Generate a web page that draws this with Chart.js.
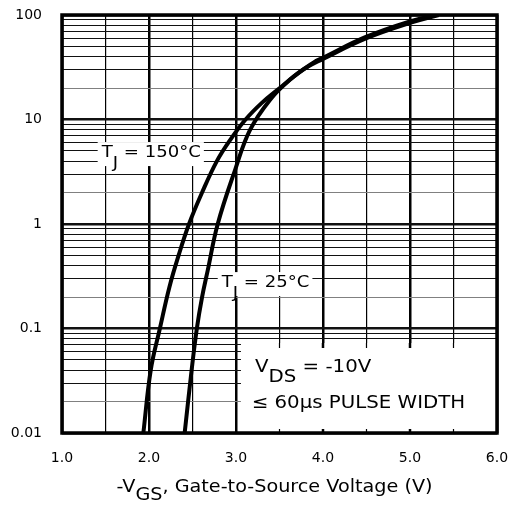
<!DOCTYPE html>
<html>
<head>
<meta charset="utf-8" />
<title>Typical Transfer Characteristics</title>
<script src="https://cdn.jsdelivr.net/npm/chart.js@4.4.1/dist/chart.umd.min.js"></script>
<style>
  html, body { margin: 0; padding: 0; background: #fff; overflow: hidden; }
  canvas { display: block; }
</style>
</head>
<body>
<canvas id="transfer_chart" width="510" height="515"></canvas>

<script>
// -VGS (V) and -ID (A)
var vgs150 = [1.935, 2.02, 2.125, 2.235, 2.34, 2.46, 2.61, 2.78, 2.94, 3.11, 3.30, 3.47, 3.77, 4.00, 4.50, 5.00, 5.33];
var id150  = [0.01, 0.04, 0.1, 0.25, 0.5, 1.0, 2.0, 4.0, 6.5, 10, 14.5, 19, 30, 38, 60, 84, 100];
var vgs25  = [2.41, 2.49, 2.55, 2.61, 2.675, 2.79, 2.99, 3.16, 3.39, 3.62, 3.89, 4.00, 4.50, 5.00, 5.30];
var id25   = [0.01, 0.04, 0.1, 0.2, 0.36, 1.0, 3.3, 7.9, 15.4, 24, 35, 39, 62, 87, 100];

var yDecades = [0.01, 0.1, 1, 10, 100];
var yTickLabels = ['0.01', '0.1', '1', '10', '100'];
var xTickLabels = ['1.0', '2.0', '3.0', '4.0', '5.0', '6.0'];
var significands = [1, 2, 3, 4, 5, 6, 7, 8, 9];

// grid lines 1..9 in each decade
var yGrid = [];
for (var d = 0; d < yDecades.length - 1; d++) {
	for (var s = 0; s < significands.length; s++) {
		yGrid.push({ value: yDecades[d] * significands[s], sig: significands[s] });
	}
}
yGrid.push({ value: yDecades[yDecades.length - 1], sig: 1 });

function sigOf(v) {
	var e = Math.floor(Math.log10(v) + 1e-9);
	return Math.round(v / Math.pow(10, e));
}

function toPoints(xs, ys) {
	var pts = [];
	for (var i = 0; i < xs.length; i++) pts.push({ x: xs[i], y: ys[i] });
	return pts;
}

var FONT = 'DejaVu Sans';
var SX = 1.13;

// text runs with lowered subscripts, slightly widened like the original
function drawRuns(ctx, x, y, runs, size) {
	ctx.save();
	ctx.font = size + 'px "' + FONT + '"';
	ctx.fillStyle = '#000';
	ctx.textBaseline = 'alphabetic';
	ctx.textAlign = 'left';
	ctx.translate(x, y);
	ctx.scale(SX, 1);
	var cx = 0;
	runs.forEach(function (r) {
		ctx.fillText(r.t, cx, r.dy || 0);
		cx += ctx.measureText(r.t).width;
	});
	ctx.restore();
	return cx * SX;
}

function runsWidth(ctx, runs, size) {
	ctx.save();
	ctx.font = size + 'px "' + FONT + '"';
	var w = 0;
	runs.forEach(function (r) { w += ctx.measureText(r.t).width; });
	ctx.restore();
	return w * SX;
}

var curveLabels = [
	{ x: 1.456, y: 4.37, runs: [{ t: 'T' }, { t: 'J', dy: 11 }, { t: ' = 150°C' }] },
	{ x: 2.836, y: 0.249, runs: [{ t: 'T' }, { t: 'J', dy: 11 }, { t: ' = 25°C' }] }
];

var decor = {
	id: 'decor',
	beforeDatasetsDraw: function (chart) {
		var ctx = chart.ctx, xs = chart.scales.x, ys = chart.scales.y;
		curveLabels.forEach(function (l) {
			var px = xs.getPixelForValue(l.x), py = ys.getPixelForValue(l.y);
			var w = runsWidth(ctx, l.runs, 16);
			ctx.fillStyle = '#fff';
			ctx.fillRect(px - 4, py - 15, w + 7, 24);
			drawRuns(ctx, px, py, l.runs, 16);
		});
	},
	afterDatasetsDraw: function (chart) {
		var ctx = chart.ctx, a = chart.chartArea, xs = chart.scales.x, ys = chart.scales.y;

		// conditions box
		var bx = xs.getPixelForValue(3.057), by = ys.getPixelForValue(0.0726);
		ctx.fillStyle = '#fff';
		ctx.fillRect(bx, by, a.right - bx, a.bottom - by);
		ctx.strokeStyle = '#000';
		[3.5, 4, 4.5, 5, 5.5].forEach(function (v) {
			var px = xs.getPixelForValue(v);
			ctx.lineWidth = Number.isInteger(v) ? 2.5 : 1.2;
			ctx.beginPath();
			ctx.moveTo(px, by); ctx.lineTo(px, by + 5);
			ctx.moveTo(px, a.bottom - 4); ctx.lineTo(px, a.bottom);
			ctx.stroke();
		});
		drawRuns(ctx, xs.getPixelForValue(3.218), ys.getPixelForValue(0.0384),
			[{ t: 'V' }, { t: 'DS', dy: 10 }, { t: ' = -10V' }], 17.5);
		drawRuns(ctx, xs.getPixelForValue(3.18), ys.getPixelForValue(0.0173),
			[{ t: '≤ 60µs PULSE WIDTH' }], 17.5);

		// frame
		ctx.lineWidth = 3.5;
		ctx.strokeStyle = '#000';
		ctx.strokeRect(a.left, a.top, a.right - a.left, a.bottom - a.top);

		// axis title
		var title = [{ t: '-V' }, { t: 'GS', dy: 8 }, { t: ', Gate-to-Source Voltage (V)' }];
		var tw = runsWidth(ctx, title, 17);
		drawRuns(ctx, (a.left + a.right) / 2 - 5 - tw / 2, a.bottom + 59, title, 17);
	}
};

new Chart(document.getElementById('transfer_chart'), {
	type: 'line',
	data: {
		datasets: [
			{
				label: 'TJ = 150°C',
				data: toPoints(vgs150, id150),
				borderColor: '#000',
				borderWidth: 4,
				pointRadius: 0,
				fill: false,
				tension: 0.4
			},
			{
				label: 'TJ = 25°C',
				data: toPoints(vgs25, id25),
				borderColor: '#000',
				borderWidth: 4,
				pointRadius: 0,
				fill: false,
				tension: 0.4
			}
		]
	},
	plugins: [decor],
	options: {
		responsive: false,
		devicePixelRatio: 1,
		animation: false,
		layout: { autoPadding: false, padding: { top: 15, right: 13, bottom: 0, left: 0 } },
		plugins: { legend: { display: false }, tooltip: { enabled: false }, title: { display: false } },
		scales: {
			x: {
				type: 'linear',
				min: 1,
				max: 6,
				afterFit: function (scale) {
					scale.height = 82;
					scale.paddingLeft = 0;
					scale.paddingRight = 0;
				},
				border: { display: false },
				grid: {
					drawTicks: false,
					color: '#000',
					lineWidth: function (c) { return c.tick && Number.isInteger(c.tick.value) ? 2.5 : 1.2; }
				},
				ticks: {
					stepSize: 0.5,
					autoSkip: false,
					maxRotation: 0,
					padding: 17,
					color: '#000',
					font: { family: FONT, size: 14 },
					callback: function (v) { return Number.isInteger(v) ? xTickLabels[v - 1] : ''; }
				}
			},
			y: {
				type: 'logarithmic',
				min: 0.01,
				max: 100,
				afterFit: function (scale) {
					scale.width = 62;
					scale.paddingTop = 0;
					scale.paddingBottom = 0;
				},
				afterBuildTicks: function (scale) {
					scale.ticks = yGrid.map(function (g) { return { value: g.value, major: g.sig === 1 }; });
				},
				border: { display: false },
				grid: {
					drawTicks: false,
					color: function (c) { return c.tick && sigOf(c.tick.value) === 2 ? '#808080' : '#111'; },
					lineWidth: function (c) { return c.tick && sigOf(c.tick.value) === 1 ? 2.5 : 1; }
				},
				ticks: {
					autoSkip: false,
					padding: 20,
					color: '#000',
					font: { family: FONT, size: 14 },
					callback: function (v) {
						for (var i = 0; i < yDecades.length; i++) {
							if (Math.abs(v - yDecades[i]) < yDecades[i] * 1e-6) return yTickLabels[i];
						}
						return '';
					}
				}
			}
		}
	}
});
</script>
</body>
</html>
